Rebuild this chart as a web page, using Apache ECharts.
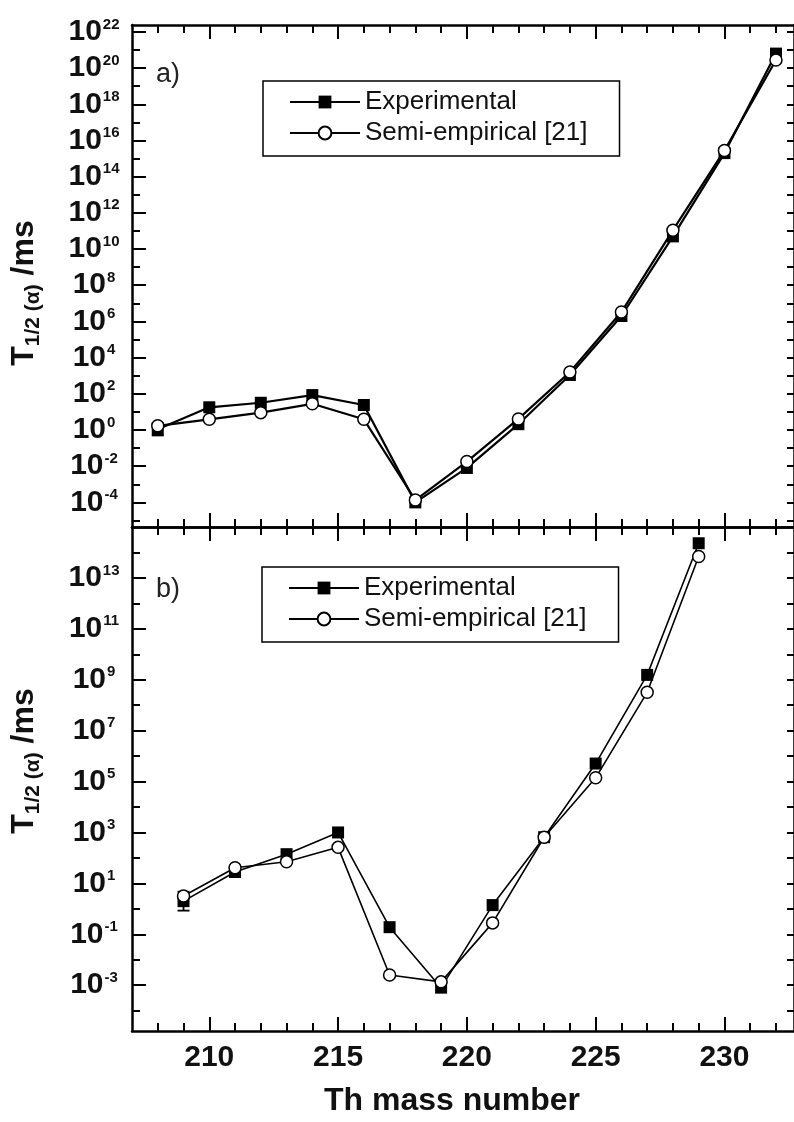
<!DOCTYPE html>
<html>
<head>
<meta charset="utf-8">
<script src="https://cdn.jsdelivr.net/npm/echarts@6/dist/echarts.min.js"></script>
<style>html,body{margin:0;padding:0;background:#fff}#chart{width:794px;height:1122px}</style>
</head>
<body>
<div id="chart"></div>
<script>
// Alpha-decay half-lives of Th isotopes (ms)
// panel a) even mass numbers
const massA = [208, 210, 212, 214, 216, 218, 220, 222, 224, 226, 228, 230, 232];
const expA  = [1.1, 18, 32, 85, 24, 1.0e-4, 8.0e-3, 2.1, 1.1e3, 2.0e6, 5.0e10, 2.0e15, 6.3e20];
const semiA = [1.7, 3.9, 9.1, 28, 3.9, 1.35e-4, 1.8e-2, 4.1, 1.6e3, 3.3e6, 1.1e11, 2.8e15, 2.8e20];
// panel b) odd mass numbers
const massB = [209, 211, 213, 215, 217, 219, 221, 223, 225, 227, 229];
const expB  = [2.0, 28, 140, 1.0e3, 0.19, 8.0e-4, 1.4, 650, 5.1e5, 1.55e9, 2.3e14];
const semiB = [3.2, 41, 71, 260, 2.5e-3, 1.35e-3, 0.28, 650, 1.4e5, 3.2e8, 6.9e13];
// experimental uncertainty: [mass, low, high]
const errA = [[208, 0.5, 2.4]];
const errB = [[209, 0.85, 4.7]];

// axis ticks
const xMajor = [210, 215, 220, 225, 230];
const xMinor = [208, 209, 210, 211, 212, 213, 214, 215, 216, 217, 218, 219, 220,
                221, 222, 223, 224, 225, 226, 227, 228, 229, 230, 231, 232];
const yMajorExpA = [-4, -2, 0, 2, 4, 6, 8, 10, 12, 14, 16, 18, 20, 22];
const yMinorExpA = [-5, -4, -3, -2, -1, 0, 1, 2, 3, 4, 5, 6, 7, 8, 9, 10, 11, 12,
                    13, 14, 15, 16, 17, 18, 19, 20, 21, 22];
const yMajorExpB = [-3, -1, 1, 3, 5, 7, 9, 11, 13];
const yMinorExpB = [-4, -3, -2, -1, 0, 1, 2, 3, 4, 5, 6, 7, 8, 9, 10, 11, 12, 13, 14];

const legendNames = ['Experimental', 'Semi-empirical [21]'];

const FONT = '"Liberation Sans", Arial, sans-serif';
const X_MIN = 207, X_MAX = 232.7;
const A_RANGE = [Math.pow(10, -5.36), Math.pow(10, 22.38)];
const B_RANGE = [Math.pow(10, -4.8), Math.pow(10, 15)];

const pow10 = arr => arr.map(e => Math.pow(10, e));
const pair = (xs, ys) => xs.map((x, i) => [x, ys[i]]);

const panelA = { left: 132, top: 25, width: 664, height: 502 };
const panelB = { left: 132, top: 527, width: 664, height: 504 };

const axisLineStyle = { show: true, lineStyle: { color: '#000', width: 2.5 } };
const noLine = { show: false };

function xAxisDef(grid, pos, ticks, len, withLine, extra) {
  return Object.assign({
    gridIndex: grid, position: pos, type: 'value', min: X_MIN, max: X_MAX,
    axisLine: withLine ? axisLineStyle : noLine,
    axisTick: { show: true, inside: true, length: len, customValues: ticks,
                lineStyle: { color: '#000', width: 2 } },
    axisLabel: { show: false },
    splitLine: { show: false }
  }, extra || {});
}

function yAxisDef(grid, pos, range, ticks, len, withLine, extra) {
  return Object.assign({
    gridIndex: grid, position: pos, type: 'log', logBase: 10,
    min: range[0], max: range[1],
    axisLine: withLine ? axisLineStyle : noLine,
    axisTick: { show: true, inside: true, length: len, customValues: pow10(ticks),
                lineStyle: { color: '#000', width: 2 } },
    axisLabel: { show: false },
    splitLine: { show: false }
  }, extra || {});
}

function powerLabel(exps) {
  return {
    show: true,
    customValues: pow10(exps),
    margin: 38,
    align: 'center',
    formatter: v => '{b|10}{s|' + Math.round(Math.log10(v)) + '}',
    rich: {
      b: { fontFamily: FONT, fontWeight: 'bold', fontSize: 30, color: '#111', verticalAlign: 'bottom' },
      s: { fontFamily: FONT, fontWeight: 'bold', fontSize: 15, color: '#111', verticalAlign: 'top', padding: [0, 0, 12, 1] }
    }
  };
}

function yName(shiftPad) {
  return {
    name: '{t|T}{s|1/2 (α)}{t| /ms}',
    nameLocation: 'middle',
    nameRotate: 90,
    nameGap: 92,
    nameTextStyle: {
      padding: shiftPad,
      rich: {
        t: { fontFamily: FONT, fontWeight: 'bold', fontSize: 32, color: '#111', verticalAlign: 'bottom' },
        s: { fontFamily: FONT, fontWeight: 'bold', fontSize: 21, color: '#111', verticalAlign: 'bottom', padding: [0, 0, -4, 0] }
      }
    }
  };
}

function errorSeries(xi, yi, data) {
  return {
    type: 'custom', xAxisIndex: xi, yAxisIndex: yi, z: 2, silent: true,
    data: data,
    renderItem: function (params, api) {
      const x = api.value(0);
      const lo = api.coord([x, api.value(1)]);
      const hi = api.coord([x, api.value(2)]);
      const w = 6;
      const st = { stroke: '#000', lineWidth: 1.8 };
      return { type: 'group', children: [
        { type: 'line', shape: { x1: lo[0], y1: lo[1], x2: hi[0], y2: hi[1] }, style: st },
        { type: 'line', shape: { x1: lo[0] - w, y1: lo[1], x2: lo[0] + w, y2: lo[1] }, style: st },
        { type: 'line', shape: { x1: hi[0] - w, y1: hi[1], x2: hi[0] + w, y2: hi[1] }, style: st }
      ] };
    }
  };
}

function expSeries(xi, yi, data, lw) {
  return {
    type: 'line', name: legendNames[0], xAxisIndex: xi, yAxisIndex: yi, data: data,
    symbol: 'rect', symbolSize: 12, z: 3,
    itemStyle: { color: '#000' },
    lineStyle: { color: '#000', width: lw },
    emphasis: { disabled: true }
  };
}

function semiSeries(xi, yi, data, lw) {
  return {
    type: 'line', name: legendNames[1], xAxisIndex: xi, yAxisIndex: yi, data: data,
    symbol: 'circle', symbolSize: 12, showAllSymbol: true, z: 4,
    itemStyle: { color: '#fff', borderColor: '#000', borderWidth: 1.5 },
    lineStyle: { color: '#000', width: lw },
    emphasis: { disabled: true }
  };
}

function legendDef(left, top) {
  return {
    left: left, top: top, orient: 'vertical', data: legendNames,
    itemWidth: 70, itemHeight: 16, itemGap: 5,
    padding: [8, 32, 10, 26],
    borderColor: '#000', borderWidth: 1.5,
    selectedMode: false,
    textStyle: { fontFamily: FONT, fontSize: 26, color: '#111', lineHeight: 26 }
  };
}

const chart = echarts.init(document.getElementById('chart'), null, { renderer: 'canvas' });

chart.setOption({
  animation: false,
  backgroundColor: '#fff',
  title: [
    { text: 'a)', left: 156, top: 61, padding: 0,
      textStyle: { fontFamily: FONT, fontWeight: 'normal', fontSize: 27, color: '#222' } },
    { text: 'b)', left: 156, top: 576, padding: 0,
      textStyle: { fontFamily: FONT, fontWeight: 'normal', fontSize: 27, color: '#222' } }
  ],
  legend: [legendDef(263, 81), legendDef(262, 567)],
  grid: [panelA, panelA, panelB, panelB],
  xAxis: [
    xAxisDef(0, 'bottom', xMajor, 14, true),
    xAxisDef(0, 'top', xMajor, 14, true),
    xAxisDef(1, 'bottom', xMinor, 8, false),
    xAxisDef(1, 'top', xMinor, 8, false),
    xAxisDef(2, 'bottom', xMajor, 14, true, {
      axisLabel: { show: true, customValues: xMajor, margin: 12,
                   fontFamily: FONT, fontWeight: 'bold', fontSize: 30, color: '#111' },
      name: 'Th mass number', nameLocation: 'middle', nameGap: 54,
      nameTextStyle: { fontFamily: FONT, fontWeight: 'bold', fontSize: 32, color: '#111',
                       padding: [0, 22, 0, 0] }
    }),
    xAxisDef(2, 'top', xMajor, 14, true),
    xAxisDef(3, 'bottom', xMinor, 8, false),
    xAxisDef(3, 'top', xMinor, 8, false)
  ],
  yAxis: [
    yAxisDef(0, 'left', A_RANGE, yMajorExpA, 14, true,
      Object.assign({ axisLabel: powerLabel(yMajorExpA) }, yName([0, 34, 0, 0]))),
    yAxisDef(0, 'right', A_RANGE, yMinorExpA, 7, true),
    yAxisDef(1, 'left', A_RANGE, yMinorExpA, 8, false),
    yAxisDef(2, 'left', B_RANGE, yMajorExpB, 14, true,
      Object.assign({ axisLabel: powerLabel(yMajorExpB) }, yName([0, 0, 0, 36]))),
    yAxisDef(2, 'right', B_RANGE, yMinorExpB, 7, true),
    yAxisDef(3, 'left', B_RANGE, yMinorExpB, 8, false)
  ],
  series: [
    errorSeries(0, 0, errA),
    expSeries(0, 0, pair(massA, expA), 2.2),
    semiSeries(0, 0, pair(massA, semiA), 2.2),
    errorSeries(4, 3, errB),
    expSeries(4, 3, pair(massB, expB), 1.6),
    semiSeries(4, 3, pair(massB, semiB), 1.6)
  ]
});
</script>
</body>
</html>
